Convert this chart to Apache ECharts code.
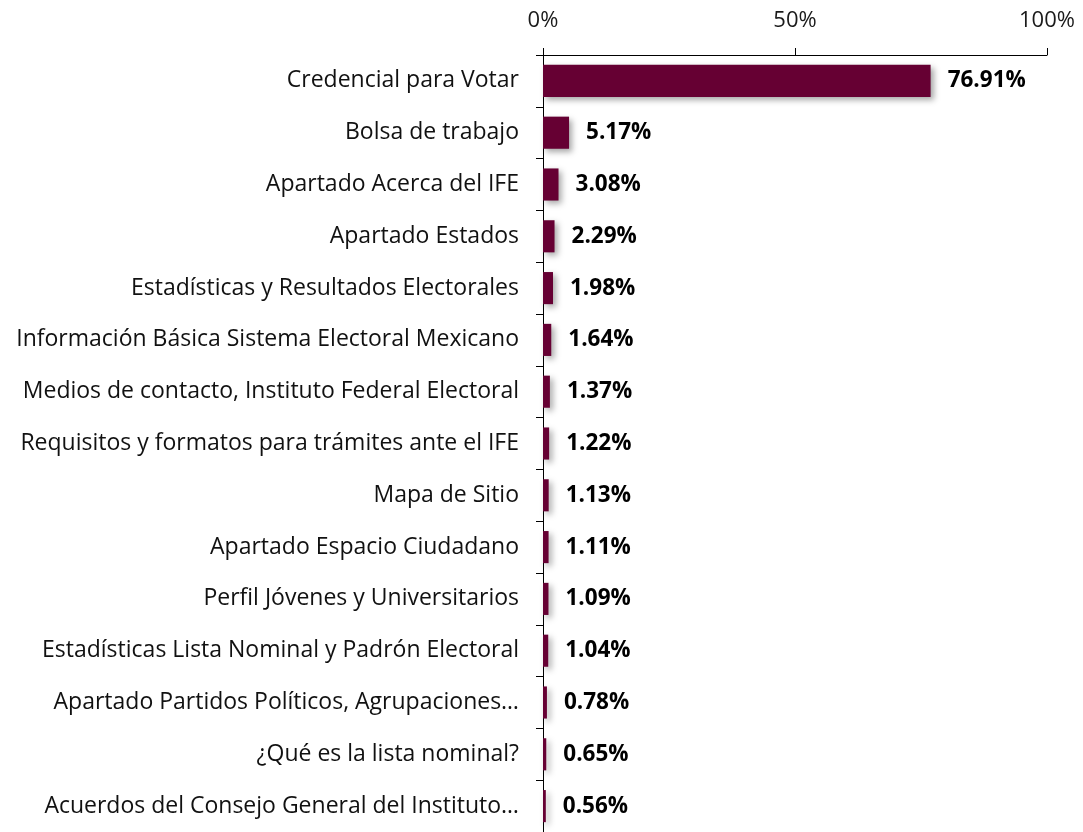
<!DOCTYPE html>
<html>
<head>
<meta charset="utf-8">
<script src="https://cdn.jsdelivr.net/npm/echarts@6/dist/echarts.min.js"></script>
<style>
  html, body { margin: 0; padding: 0; background: #fff; }
  #main { width: 1083px; height: 832px; }
</style>
</head>
<body>
<div id="main"></div>
<script>
// categorias (de arriba hacia abajo)
var categorias = [
    'Credencial para Votar',
    'Bolsa de trabajo',
    'Apartado Acerca del IFE',
    'Apartado Estados',
    'Estadísticas y Resultados Electorales',
    'Información Básica Sistema Electoral Mexicano',
    'Medios de contacto, Instituto Federal Electoral',
    'Requisitos y formatos para trámites ante el IFE',
    'Mapa de Sitio',
    'Apartado Espacio Ciudadano',
    'Perfil Jóvenes y Universitarios',
    'Estadísticas Lista Nominal y Padrón Electoral',
    'Apartado Partidos Políticos, Agrupaciones…',
    '¿Qué es la lista nominal?',
    'Acuerdos del Consejo General del Instituto…'
];
// porcentajes
var valores = [76.91, 5.17, 3.08, 2.29, 1.98, 1.64, 1.37, 1.22, 1.13, 1.11, 1.09, 1.04, 0.78, 0.65, 0.56];
var ticksX = [0, 50, 100];

var fuente = '"Open Sans", sans-serif';

var myChart = echarts.init(document.getElementById('main'));
var option = {
    animation: false,
    grid: { left: 543, right: 36, top: 55, bottom: -3, containLabel: false },
    xAxis: {
        type: 'value',
        position: 'top',
        min: 0,
        max: 100,
        interval: 50,
        axisLine: { show: true, lineStyle: { color: '#000', width: 1 } },
        axisTick: { show: true, length: 7, lineStyle: { color: '#000' } },
        splitLine: { show: false },
        axisLabel: {
            margin: 23,
            color: '#1a1a1a',
            fontFamily: fuente,
            fontSize: 22,
            formatter: function (v) { return ticksX.indexOf(v) >= 0 ? v + '%' : ''; }
        }
    },
    yAxis: {
        type: 'category',
        inverse: true,
        data: categorias,
        axisLine: { show: true, lineStyle: { color: '#000', width: 1 } },
        axisTick: { show: true, length: 7, alignWithLabel: false, lineStyle: { color: '#000' } },
        axisLabel: {
            margin: 24,
            color: '#111',
            fontFamily: fuente,
            fontSize: 23,
            padding: [4, 0, 0, 0]
        }
    },
    series: [{
        type: 'bar',
        data: valores,
        barWidth: '62%',
        itemStyle: {
            color: '#660033',
            shadowColor: 'rgba(0,0,0,0.35)',
            shadowBlur: 6,
            shadowOffsetX: 3,
            shadowOffsetY: 3
        },
        label: {
            show: true,
            position: 'right',
            distance: 17,
            color: '#000',
            fontFamily: fuente,
            fontWeight: 'bold',
            fontSize: 22.5,
            padding: [4, 0, 0, 0],
            formatter: function (p) { return p.value.toFixed(2) + '%'; }
        }
    }]
};
option && myChart.setOption(option);
</script>
</body>
</html>
